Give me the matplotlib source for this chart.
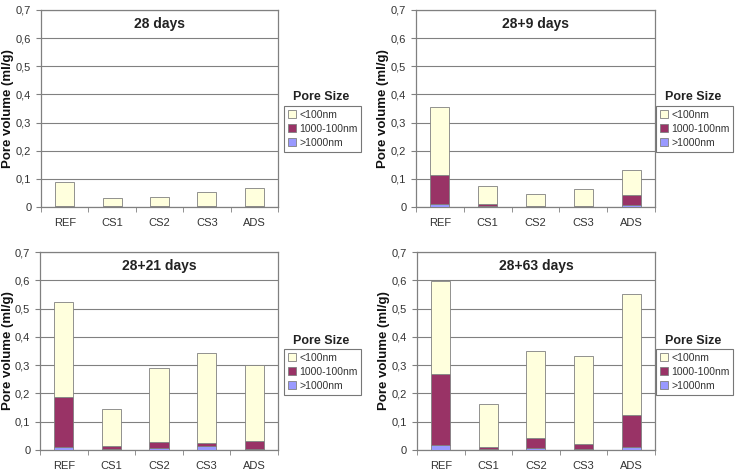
import matplotlib
matplotlib.use("Agg")
import matplotlib.pyplot as plt
from matplotlib.patches import Patch
from matplotlib.ticker import FuncFormatter, MultipleLocator
import numpy as np

plt.rcParams['font.family'] = ['Liberation Sans', 'DejaVu Sans']

categories = ["REF", "CS1", "CS2", "CS3", "ADS"]
panel_titles = ["28 days", "28+9 days", "28+21 days", "28+63 days"]
series_names = ["<100nm", "1000-100nm", ">1000nm"]

# >1000nm segment
gt1000 = {
    "28 days":    [0.001, 0.001, 0.001, 0.001, 0.001],
    "28+9 days":  [0.009, 0.002, 0.001, 0.001, 0.008],
    "28+21 days": [0.009, 0.005, 0.007, 0.015, 0.004],
    "28+63 days": [0.019, 0.003, 0.006, 0.005, 0.012],
}
# 1000-100nm segment
mid = {
    "28 days":    [0.002, 0.002, 0.002, 0.002, 0.002],
    "28+9 days":  [0.106, 0.007, 0.003, 0.002, 0.033],
    "28+21 days": [0.178, 0.010, 0.021, 0.009, 0.029],
    "28+63 days": [0.249, 0.007, 0.035, 0.016, 0.112],
}
# <100nm segment
lt100 = {
    "28 days":    [0.087, 0.029, 0.032, 0.052, 0.065],
    "28+9 days":  [0.240, 0.064, 0.042, 0.061, 0.091],
    "28+21 days": [0.337, 0.131, 0.263, 0.320, 0.266],
    "28+63 days": [0.331, 0.151, 0.308, 0.313, 0.428],
}

colors = {"<100nm": "#FFFFDD", "1000-100nm": "#993366", ">1000nm": "#9999FF"}
edge = "#808080"

W, H = 738, 473
fig = plt.figure(figsize=(7.38, 4.73), dpi=100)
positions = [
    [0.0556, 0.5624, 0.3211, 0.4165],
    [0.5637, 0.5624, 0.3238, 0.4165],
    [0.0542, 0.0486, 0.3225, 0.4186],
    [0.5650, 0.0486, 0.3225, 0.4186],
]
legend_pos = [
    (0.385, 0.776),
    (0.889, 0.776),
    (0.385, 0.262),
    (0.889, 0.262),
]
ylabel_x = [8 / W, 383 / W, 8 / W, 384 / W]

fmt = FuncFormatter(lambda v, p: "0" if abs(v) < 1e-9 else ("%.1f" % v).replace(".", ","))
x = np.arange(len(categories))

for i, title in enumerate(panel_titles):
    ax = fig.add_axes(positions[i])
    b1 = np.array(gt1000[title])
    b2 = np.array(mid[title])
    b3 = np.array(lt100[title])
    ax.bar(x, b1, width=0.4, color=colors[">1000nm"], edgecolor=edge, linewidth=0.6, zorder=3)
    ax.bar(x, b2, width=0.4, bottom=b1, color=colors["1000-100nm"], edgecolor=edge, linewidth=0.6, zorder=3)
    ax.bar(x, b3, width=0.4, bottom=b1 + b2, color=colors["<100nm"], edgecolor=edge, linewidth=0.6, zorder=3)
    ax.set_xlim(-0.5, 4.5)
    ax.set_ylim(0, 0.7)
    ax.yaxis.set_major_locator(MultipleLocator(0.1))
    ax.yaxis.set_major_formatter(fmt)
    ax.grid(axis='y', color='#808080', linewidth=0.8, zorder=0)
    ax.set_xticks(x)
    ax.set_xticklabels(categories)
    ax.set_xticks(np.arange(-0.5, 5.0, 1.0), minor=True)
    ax.tick_params(axis='x', which='major', length=0, labelsize=8, pad=8, colors='#333333')
    ax.tick_params(axis='x', which='minor', length=3.5, color='#808080', direction='out')
    ax.tick_params(axis='y', which='major', length=3.5, color='#808080', labelsize=8, labelcolor='#333333')
    for s in ax.spines.values():
        s.set_color('#808080')
        s.set_linewidth(0.9)
    p = positions[i]
    fig.text(ylabel_x[i], p[1] + p[3] / 2, "Pore volume (ml/g)", rotation=90,
             ha='center', va='center', fontsize=9.5, fontweight='bold', color='#111111')
    ax.text(0.5, 0.93, title, transform=ax.transAxes, ha='center', va='center',
            fontsize=10, fontweight='bold', color='#222222')
    handles = [Patch(facecolor=colors[n], edgecolor=edge, linewidth=0.6) for n in series_names]
    lx, ly = legend_pos[i]
    leg = fig.legend(handles, series_names, loc='upper left', bbox_to_anchor=(lx, ly),
                     fontsize=7.5, frameon=True, fancybox=False, edgecolor='#555555',
                     handlelength=0.8, handleheight=0.8, handletextpad=0.3,
                     borderpad=0.35, labelspacing=0.4, borderaxespad=0)
    leg.get_frame().set_linewidth(0.8)
    for t in leg.get_texts():
        t.set_color('#333333')
    fig.text(lx + 0.050, ly + 0.018, "Pore Size", ha='center', va='center',
             fontsize=9, fontweight='bold', color='#222222')

fig.savefig("out.png", dpi=100)
